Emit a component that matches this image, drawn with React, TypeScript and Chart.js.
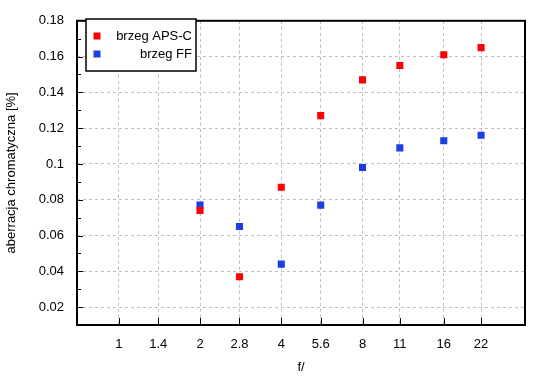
import React, { useEffect, useRef } from "react";
import { Chart, registerables } from "chart.js";

Chart.register(...registerables);

const fStops = [2, 2.8, 4, 5.6, 8, 11, 16, 22];
const apsC = [0.074, 0.037, 0.087, 0.127, 0.147, 0.155, 0.161, 0.165];
const fullFrame = [0.077, 0.065, 0.044, 0.077, 0.098, 0.109, 0.113, 0.116];
const xTickValues = [1, 1.4, 2, 2.8, 4, 5.6, 8, 11, 16, 22];
const yTickValues = [0.02, 0.04, 0.06, 0.08, 0.1, 0.12, 0.14, 0.16, 0.18];
const yMinorValues = [0.01, 0.03, 0.05, 0.07, 0.09, 0.11, 0.13, 0.15, 0.17];
const seriesLabels = ["brzeg APS-C", "brzeg FF"];
const seriesColors = ["#ff0000", "#1a3de6"];

const FONT = "'Liberation Sans', Arial, sans-serif";

const framePlugin = {
  id: "framePlugin",
  afterDraw(chart: any) {
    const { ctx, chartArea: a, scales } = chart;
    const x = scales.x;
    const y = scales.y;
    ctx.save();
    ctx.strokeStyle = "#000";
    ctx.lineWidth = 1;
    ctx.beginPath();
    yTickValues.forEach((v) => {
      if (v >= 0.18) return;
      const py = Math.round(y.getPixelForValue(v)) + 0.5;
      ctx.moveTo(a.left, py);
      ctx.lineTo(a.left + 6, py);
    });
    yMinorValues.forEach((v) => {
      const py = Math.round(y.getPixelForValue(v)) + 0.5;
      ctx.moveTo(a.left, py);
      ctx.lineTo(a.left + 4, py);
    });
    xTickValues.forEach((v) => {
      const px = Math.round(x.getPixelForValue(v)) + 0.5;
      ctx.moveTo(px, a.bottom);
      ctx.lineTo(px, a.bottom - 7);
    });
    ctx.stroke();
    ctx.lineWidth = 2;
    ctx.strokeRect(a.left, a.top, a.right - a.left, a.bottom - a.top);

    const lx = 86, ly = 19, lw = 110, lh = 52;
    ctx.fillStyle = "#fff";
    ctx.fillRect(lx, ly, lw, lh);
    ctx.lineWidth = 1.5;
    ctx.strokeRect(lx, ly, lw, lh);
    ctx.font = "13px " + FONT;
    ctx.textAlign = "right";
    ctx.textBaseline = "middle";
    chart.data.datasets.forEach((ds: any, i: number) => {
      const cy = 36 + i * 18;
      ctx.fillStyle = ds.backgroundColor;
      ctx.fillRect(93.5, cy - 3.5, 7, 7);
      ctx.fillStyle = "#000";
      ctx.fillText(ds.label, 192, cy + 0.5);
    });
    ctx.restore();
  },
};

export default function App() {
  const ref = useRef<HTMLCanvasElement | null>(null);
  useEffect(() => {
    document.body.style.margin = "0";
    const canvas = ref.current!;
    const chart = new Chart(canvas, {
      type: "scatter",
      data: {
        datasets: [
          {
            label: seriesLabels[0],
            data: fStops.map((f, i) => ({ x: f, y: apsC[i] })),
            backgroundColor: seriesColors[0],
            borderColor: seriesColors[0],
            borderWidth: 0,
            pointStyle: "rect",
            pointRadius: 5,
          },
          {
            label: seriesLabels[1],
            data: fStops.map((f, i) => ({ x: f, y: fullFrame[i] })),
            backgroundColor: seriesColors[1],
            borderColor: seriesColors[1],
            borderWidth: 0,
            pointStyle: "rect",
            pointRadius: 5,
          },
        ],
      },
      options: {
        responsive: false,
        animation: false,
        layout: { padding: { top: 16, right: 25, left: 0, bottom: 0 } },
        plugins: {
          legend: { display: false },
          tooltip: { enabled: false },
        },
        scales: {
          x: {
            type: "logarithmic",
            min: 0.7,
            max: 32,
            afterBuildTicks: (scale: any) => {
              scale.ticks = xTickValues.map((v) => ({ value: v }));
            },
            afterFit: (scale: any) => {
              scale.height = 55;
            },
            ticks: {
              autoSkip: false,
              maxRotation: 0,
              padding: 12,
              color: "#000",
              font: { family: FONT, size: 13 },
              callback: (v: any) => String(v),
            },
            grid: {
              drawTicks: false,
              color: "#bdbdbd",
              lineWidth: 1,
            },
            border: { display: false, dash: [3, 3] },
            title: {
              display: true,
              text: "f/",
              color: "#000",
              font: { family: FONT, size: 13 },
              padding: { top: 0, bottom: 5 },
            },
          },
          y: {
            type: "linear",
            min: 0.01,
            max: 0.18,
            afterBuildTicks: (scale: any) => {
              scale.ticks = yTickValues.map((v) => ({ value: v }));
            },
            afterFit: (scale: any) => {
              scale.width = 77;
            },
            ticks: {
              autoSkip: false,
              padding: 13,
              color: "#000",
              font: { family: FONT, size: 13 },
              callback: (v: any) => String(Number(Number(v).toFixed(2))),
            },
            grid: {
              drawTicks: false,
              color: "#bdbdbd",
              lineWidth: 1,
            },
            border: { display: false, dash: [3, 3] },
            title: {
              display: true,
              text: "aberracja chromatyczna [%]",
              color: "#000",
              font: { family: FONT, size: 13 },
              padding: { top: 4, bottom: 0 },
            },
          },
        },
      },
      plugins: [framePlugin],
    });
    return () => chart.destroy();
  }, []);
  return (
    <div style={{ position: "absolute", left: 0, top: 0, width: 550, height: 380 }}>
      <canvas ref={ref} width={550} height={380} />
    </div>
  );
}
